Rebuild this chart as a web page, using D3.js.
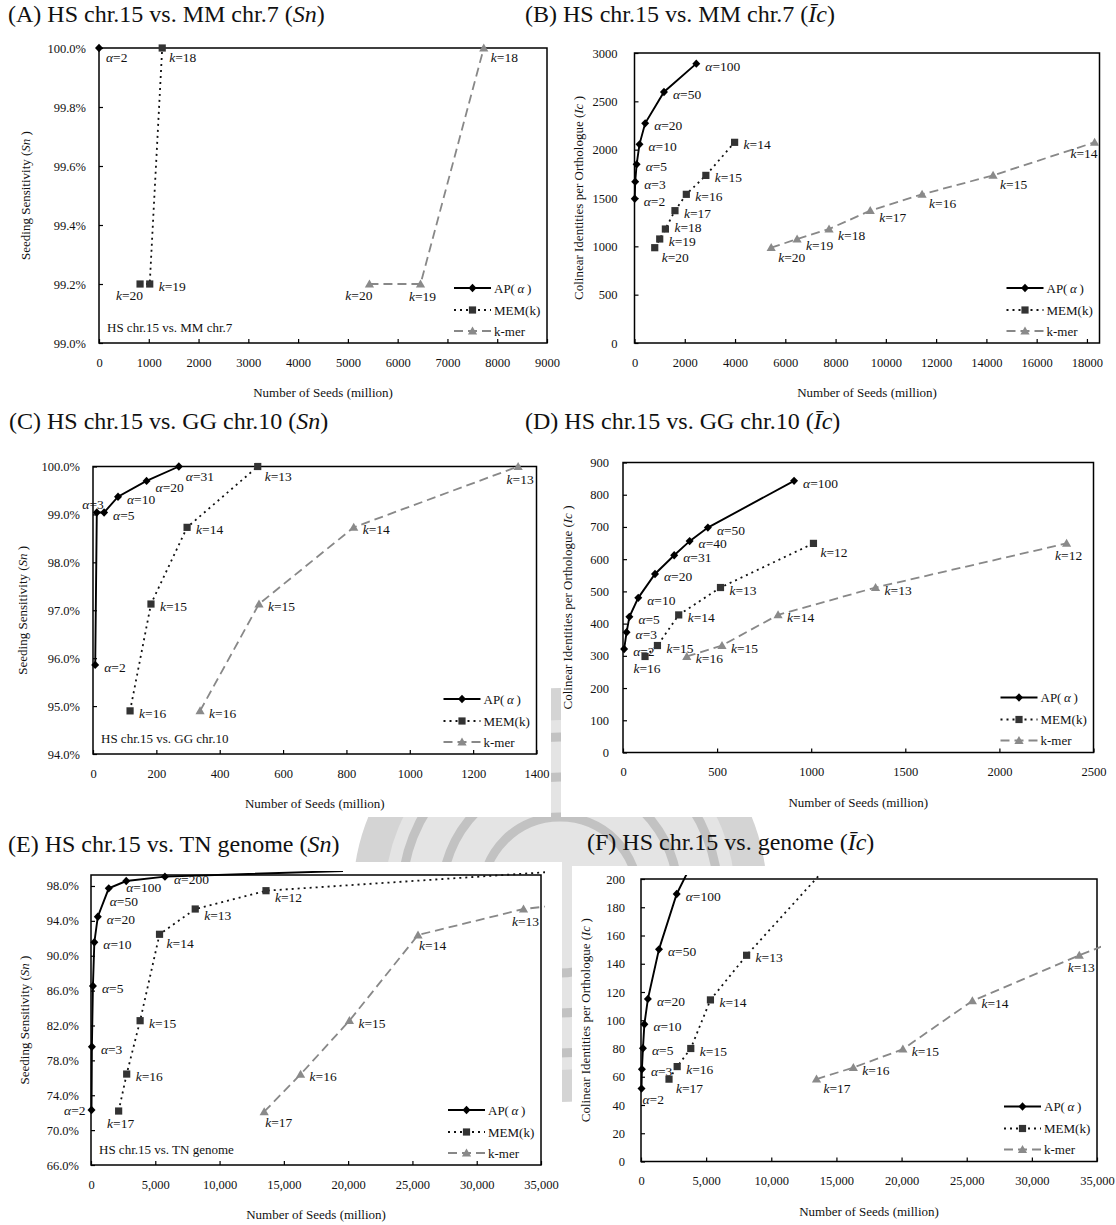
<!DOCTYPE html>
<html>
<head>
<meta charset="utf-8">
<script src="https://cdn.jsdelivr.net/npm/d3@7"></script>
<style>
  body { margin: 0; background: #fff; }
  svg text { font-family: "Liberation Serif", "Times New Roman", serif; fill: #111; }
</style>
</head>
<body>
<svg id="fig" width="1116" height="1225"></svg>
<script>
// Points are [parameter (alpha or k), number of seeds (million), value]

// (A) Sn, HS chr.15 vs. MM chr.7
const apA = [[2, 0, 100.0]];
const memA = [[18, 1270, 100.0], [19, 1019, 99.2], [20, 825, 99.2]];
const kmerA = [[18, 7730, 100.0], [19, 6459, 99.2], [20, 5433, 99.2]];

// (B) Ic, HS chr.15 vs. MM chr.7
const apB = [[2, 10, 1493], [3, 28, 1669], [5, 85, 1848], [10, 198, 2055], [20, 424, 2272], [50, 1172, 2597], [100, 2458, 2890]];
const memB = [[14, 3983, 2076], [15, 2839, 1734], [16, 2062, 1538], [17, 1610, 1369], [18, 1229, 1179], [19, 1003, 1076], [20, 805, 986]];
const kmerB = [[14, 18305, 2076], [15, 14266, 1734], [16, 11441, 1538], [17, 9379, 1369], [18, 7740, 1179], [19, 6469, 1076], [20, 5438, 986]];

// (C) Sn, HS chr.15 vs. GG chr.10
const apC = [[2, 7, 95.86], [3, 12, 99.04], [5, 35, 99.04], [10, 79, 99.37], [20, 169, 99.70], [31, 271, 100.0]];
const memC = [[13, 520, 100.0], [14, 297, 98.73], [15, 183, 97.13], [16, 117, 94.90]];
const kmerC = [[13, 1342, 100.0], [14, 823, 98.73], [15, 524, 97.13], [16, 338, 94.90]];

// (D) Ic, HS chr.15 vs. GG chr.10
const apD = [[2, 6, 321], [3, 19, 373], [5, 34, 421], [10, 81, 480], [20, 170, 554], [31, 272, 612], [40, 354, 656], [50, 451, 698], [100, 909, 843]];
const memD = [[12, 1012, 649], [13, 518, 512], [14, 296, 427], [15, 183, 332], [16, 117, 298]];
const kmerD = [[12, 2357, 649], [13, 1342, 512], [14, 824, 427], [15, 526, 332], [16, 339, 298]];

// (E) Sn, HS chr.15 vs. TN genome
const apE = [[2, 40, 72.30], [3, 70, 79.57], [5, 150, 86.53], [10, 260, 91.54], [20, 530, 94.48], [50, 1380, 97.73], [100, 2740, 98.57], [200, 5750, 99.07]];
const memE = [[12, 13611, 97.46], [13, 8107, 95.36], [14, 5330, 92.46], [15, 3820, 82.55], [16, 2776, 76.43], [17, 2150, 72.19]];
const kmerE = [[13, 33640, 95.36], [14, 25435, 92.38], [15, 20100, 82.55], [16, 16300, 76.40], [17, 13470, 72.11]];
// lines running off the plotted range: [seeds, value]
const apE_tail = [19600, 99.72];
const memE_tail = [36000, 99.64];
const kmerE_tail = [60000, 99.7];

// (F) Ic, HS chr.15 vs. genome
const apF = [[2, 40, 51.6], [3, 70, 65.3], [5, 150, 80.2], [10, 260, 97.2], [20, 530, 115.1], [50, 1380, 150.2], [100, 2740, 189.4]];
const memF = [[13, 8107, 146.0], [14, 5330, 114.4], [15, 3820, 80.0], [16, 2776, 67.2], [17, 2150, 58.3]];
const kmerF = [[13, 33640, 146.0], [14, 25435, 113.7], [15, 20100, 79.5], [16, 16300, 66.5], [17, 13470, 58.3]];
const apF_tail = [5750, 245];
const memF_tail = [13611, 202];
const kmerF_tail = [60000, 241];

// tick values
const xTicksA = [0, 1000, 2000, 3000, 4000, 5000, 6000, 7000, 8000, 9000];
const yTicksA = [99.0, 99.2, 99.4, 99.6, 99.8, 100.0];
const xTicksB = [0, 2000, 4000, 6000, 8000, 10000, 12000, 14000, 16000, 18000];
const yTicksB = [0, 500, 1000, 1500, 2000, 2500, 3000];
const xTicksC = [0, 200, 400, 600, 800, 1000, 1200, 1400];
const yTicksC = [94, 95, 96, 97, 98, 99, 100];
const xTicksD = [0, 500, 1000, 1500, 2000, 2500];
const yTicksD = [0, 100, 200, 300, 400, 500, 600, 700, 800, 900];
const xTicksE = [0, 5000, 10000, 15000, 20000, 25000, 30000, 35000];
const yTicksE = [66, 70, 74, 78, 82, 86, 90, 94, 98];
const xTicksF = [0, 5000, 10000, 15000, 20000, 25000, 30000, 35000];
const yTicksF = [0, 20, 40, 60, 80, 100, 120, 140, 160, 180, 200];

// where each point label sits (same order as the data)
const apA_pos = ['br'];
const memA_pos = ['br', 'r', 'bl'];
const kmerA_pos = ['br', 'b', 'bl'];
const apB_pos = ['r', 'r', 'r', 'r', 'r', 'r', 'r'];
const memB_pos = ['r', 'r', 'r', 'r', 'ru', 'r', 'br'];
const kmerB_pos = ['bl', 'br', 'br', 'rb', 'rb', 'rb', 'br'];
const apC_pos = ['r', 'tl', 'r', 'r', 'rb', 'br'];
const memC_pos = ['br', 'r', 'r', 'r'];
const kmerC_pos = ['b', 'r', 'r', 'r'];
const apD_pos = ['r', 'r', 'r', 'r', 'r', 'r', 'r', 'r', 'r'];
const memD_pos = ['br', 'r', 'r', 'r', 'b'];
const kmerD_pos = ['b', 'r', 'r', 'r', 'r'];
const apE_pos = ['l', 'r', 'r', 'r', 'r', 'bd', 'bu', 'r'];
const memE_pos = ['rb', 'rb', 'br', 'r', 'r', 'b'];
const kmerE_pos = ['b', 'bs', 'r', 'r', 'bs'];
const apF_pos = ['bs', 'r', 'r', 'r', 'r', 'r', 'r'];
const memF_pos = ['r', 'r', 'r', 'r', 'br'];
const kmerF_pos = ['b', 'r', 'r', 'r', 'br'];

const offsets = {
    r:  { a: 'start',  dx: 9,  dy: 7 },
    ru: { a: 'start',  dx: 9,  dy: 3 },
    rb: { a: 'start',  dx: 9,  dy: 11 },
    br: { a: 'start',  dx: 7,  dy: 14 },
    bs: { a: 'start',  dx: 1,  dy: 15 },
    bu: { a: 'start',  dx: 0,  dy: 11 },
    bd: { a: 'start',  dx: 1,  dy: 18 },
    b:  { a: 'middle', dx: 2,  dy: 17 },
    bl: { a: 'end',    dx: 3,  dy: 16 },
    l:  { a: 'end',    dx: -6, dy: 5 },
    tl: { a: 'end',    dx: 7,  dy: -4 }
};

const pct = d => d.toFixed(1) + '%';
const plain = d3.format('d');
const comma = d3.format(',');

const panels = [
    { id: 'A', title: ['(A) HS chr.15 vs. MM chr.7 (', 'Sn', ')'], tx: 8, ty: 22,
      box: [99, 547, 48, 343], xDom: [0, 9000], xTicks: xTicksA, xFmt: plain,
      yDom: [99, 100], yTicks: yTicksA, yFmt: pct, yGap: 13, yTitleX: 30, metric: 'Sn',
      note: 'HS chr.15 vs. MM chr.7',
      series: [[apA, apA_pos, null], [memA, memA_pos, null], [kmerA, kmerA_pos, null]] },
    { id: 'B', title: ['(B) HS chr.15 vs. MM chr.7 (', 'Īc', ')'], tx: 525, ty: 22,
      box: [634.5, 1099.5, 53, 343], xDom: [0, 18500], xTicks: xTicksB, xFmt: plain,
      yDom: [0, 3000], yTicks: yTicksB, yFmt: plain, yGap: 17, yTitleX: 583, metric: 'Ic',
      note: null,
      series: [[apB, apB_pos, null], [memB, memB_pos, null], [kmerB, kmerB_pos, null]] },
    { id: 'C', title: ['(C) HS chr.15 vs. GG chr.10 (', 'Sn', ')'], tx: 9, ty: 429,
      box: [93, 536.5, 466.5, 754], xDom: [0, 1400], xTicks: xTicksC, xFmt: plain,
      yDom: [94, 100], yTicks: yTicksC, yFmt: pct, yGap: 13, yTitleX: 27, metric: 'Sn',
      note: 'HS chr.15 vs. GG chr.10',
      series: [[apC, apC_pos, null], [memC, memC_pos, null], [kmerC, kmerC_pos, null]] },
    { id: 'D', title: ['(D) HS chr.15 vs. GG chr.10 (', 'Īc', ')'], tx: 525, ty: 429,
      box: [623, 1093.5, 462.5, 752.5], xDom: [0, 2500], xTicks: xTicksD, xFmt: plain,
      yDom: [0, 900], yTicks: yTicksD, yFmt: plain, yGap: 14, yTitleX: 572, metric: 'Ic',
      note: null,
      series: [[apD, apD_pos, null], [memD, memD_pos, null], [kmerD, kmerD_pos, null]] },
    { id: 'E', title: ['(E) HS chr.15 vs. TN genome (', 'Sn', ')'], tx: 8, ty: 852,
      box: [91, 541, 875, 1165], xDom: [0, 35000], xTicks: xTicksE, xFmt: comma,
      yDom: [66, 99.26], yTicks: yTicksE, yFmt: pct, yGap: 12, yTitleX: 29, metric: 'Sn',
      note: 'HS chr.15 vs. TN genome',
      series: [[apE, apE_pos, apE_tail], [memE, memE_pos, memE_tail], [kmerE, kmerE_pos, kmerE_tail]] },
    { id: 'F', title: ['(F) HS chr.15 vs. genome (', 'Īc', ')'], tx: 587, ty: 850,
      box: [641, 1097, 879, 1161.5], xDom: [0, 35000], xTicks: xTicksF, xFmt: comma,
      yDom: [0, 200], yTicks: yTicksF, yFmt: plain, yGap: 16, yTitleX: 590, metric: 'Ic',
      note: null,
      series: [[apF, apF_pos, apF_tail], [memF, memF_pos, memF_tail], [kmerF, kmerF_pos, kmerF_tail]] }
];

// look of the three seeding methods
const styles = [
    { sym: 'α', stroke: '#000', width: 1.9, dash: null, marker: 'diamond', fill: '#000' },
    { sym: 'k', stroke: '#111', width: 1.8, dash: '2,4', marker: 'square', fill: '#333' },
    { sym: 'k', stroke: '#888', width: 1.8, dash: '9,5', marker: 'triangle', fill: '#8a8a8a' }
];

const markerPath = {
    diamond: 'M0,-4.2L4,0L0,4.2L-4,0Z',
    square: 'M-3.6,-3.6H3.6V3.6H-3.6Z',
    triangle: 'M0,-4.6L4.6,3.4H-4.6Z'
};

const svg = d3.select('#fig');

// faint seal watermark showing through the gaps between panels
const seal = svg.append('g').attr('transform', 'translate(560,895)');
seal.append('circle').attr('r', 207).attr('fill', '#d4d4d4');
seal.append('circle').attr('r', 175).attr('fill', '#e4e4e4');
[158, 118, 78].forEach(r => {
    seal.append('circle').attr('r', r)
        .attr('fill', 'none').attr('stroke', '#c2c2c2').attr('stroke-width', 9);
});

// white page areas of the four corner blocks
[[0, 0, 551, 817], [561, 0, 555, 817], [0, 862, 562, 363], [572, 866, 544, 359]].forEach(b => {
    svg.append('rect').attr('x', b[0]).attr('y', b[1]).attr('width', b[2]).attr('height', b[3]).attr('fill', '#fff');
});

function italicText(sel, parts) {
    // parts: [plain, italic, plain]
    sel.append('tspan').text(parts[0]);
    sel.append('tspan').style('font-style', 'italic').text(parts[1]);
    sel.append('tspan').text(parts[2]);
}

panels.forEach(p => {
    const [l, r, t, b] = p.box;
    const g = svg.append('g').attr('id', 'panel' + p.id);

    const x = d3.scaleLinear().domain(p.xDom).range([l, r]);
    const y = d3.scaleLinear().domain(p.yDom).range([b, t]);

    // title
    italicText(g.append('text').attr('x', p.tx).attr('y', p.ty).style('font-size', '24px'), p.title);

    // axes with inward ticks
    const xAxis = g.append('g').attr('transform', `translate(0,${b})`)
        .call(d3.axisBottom(x).tickValues(p.xTicks).tickFormat(p.xFmt).tickSizeInner(-4).tickSizeOuter(0).tickPadding(15));
    const yAxis = g.append('g').attr('transform', `translate(${l},0)`)
        .call(d3.axisLeft(y).tickValues(p.yTicks).tickFormat(p.yFmt).tickSizeInner(-4).tickSizeOuter(0).tickPadding(p.yGap));
    [xAxis, yAxis].forEach(a => {
        a.select('.domain').remove();
        a.selectAll('.tick line').attr('stroke', '#000').attr('stroke-width', 1.2);
        a.selectAll('.tick text').style('font-size', '12.5px').attr('fill', '#111')
            .style('font-family', '"Liberation Serif", "Times New Roman", serif');
    });

    // plot frame
    g.append('rect').attr('x', l).attr('y', t).attr('width', r - l).attr('height', b - t)
        .attr('fill', 'none').attr('stroke', '#000').attr('stroke-width', 1.5);

    // axis titles
    g.append('text').attr('x', (l + r) / 2).attr('y', b + 54).attr('text-anchor', 'middle')
        .style('font-size', '13px').text('Number of Seeds (million)');
    const yt = g.append('text').attr('text-anchor', 'middle').style('font-size', '13px')
        .attr('transform', `translate(${p.yTitleX},${(t + b) / 2}) rotate(-90)`);
    if (p.metric === 'Sn') italicText(yt, ['Seeding Sensitivity (', 'Sn', ' )']);
    else italicText(yt, ['Colinear Identities per Orthologue (', 'Ic', ' )']);

    if (p.note) {
        g.append('text').attr('x', l + 8).attr('y', b - 11).style('font-size', '13px').text(p.note);
    }

    // clip for lines leaving the plotted range
    const clipId = 'clip' + p.id;
    g.append('clipPath').attr('id', clipId).append('rect')
        .attr('x', l - 5).attr('y', t - 4).attr('width', r - l + 9).attr('height', b - t + 10);

    const line = d3.line().x(d => x(d[0])).y(d => y(d[1]));

    p.series.forEach((s, i) => {
        const st = styles[i];
        const [pts, pos, tail] = s;
        const path = pts.map(d => [d[1], d[2]]);
        if (tail) path.push(tail);
        path.sort((a, c) => a[0] - c[0]);

        g.append('path').datum(path)
            .attr('d', line)
            .attr('fill', 'none')
            .attr('stroke', st.stroke)
            .attr('stroke-width', st.width)
            .attr('stroke-dasharray', st.dash)
            .attr('clip-path', `url(#${clipId})`);

        g.selectAll('.m' + i).data(pts).enter().append('path')
            .attr('class', 'm' + i)
            .attr('d', markerPath[st.marker])
            .attr('fill', st.fill)
            .attr('transform', d => `translate(${x(d[1])},${y(d[2])})`);

        pts.forEach((d, j) => {
            const o = offsets[pos[j]];
            const lbl = g.append('text')
                .attr('x', x(d[1]) + o.dx).attr('y', y(d[2]) + o.dy)
                .attr('text-anchor', o.a).style('font-size', '13.5px');
            lbl.append('tspan').style('font-style', 'italic').text(st.sym);
            lbl.append('tspan').text('=' + d[0]);
        });
    });

    // legend
    const legendRows = [b - 55, b - 33, b - 12];
    styles.forEach((st, i) => {
        const ly = legendRows[i];
        g.append('line').attr('x1', r - 93).attr('x2', r - 56).attr('y1', ly).attr('y2', ly)
            .attr('stroke', st.stroke).attr('stroke-width', st.width).attr('stroke-dasharray', st.dash);
        g.append('path').attr('d', markerPath[st.marker]).attr('fill', st.fill)
            .attr('transform', `translate(${r - 74.5},${ly})`);
        const lt = g.append('text').attr('x', r - 53).attr('y', ly + 4.5).style('font-size', '13px');
        if (i === 0) italicText(lt, ['AP(\u2009', 'α', '\u2009)']);
        else if (i === 1) lt.text('MEM(k)');
        else lt.text('k-mer');
    });
});
</script>
</body>
</html>
